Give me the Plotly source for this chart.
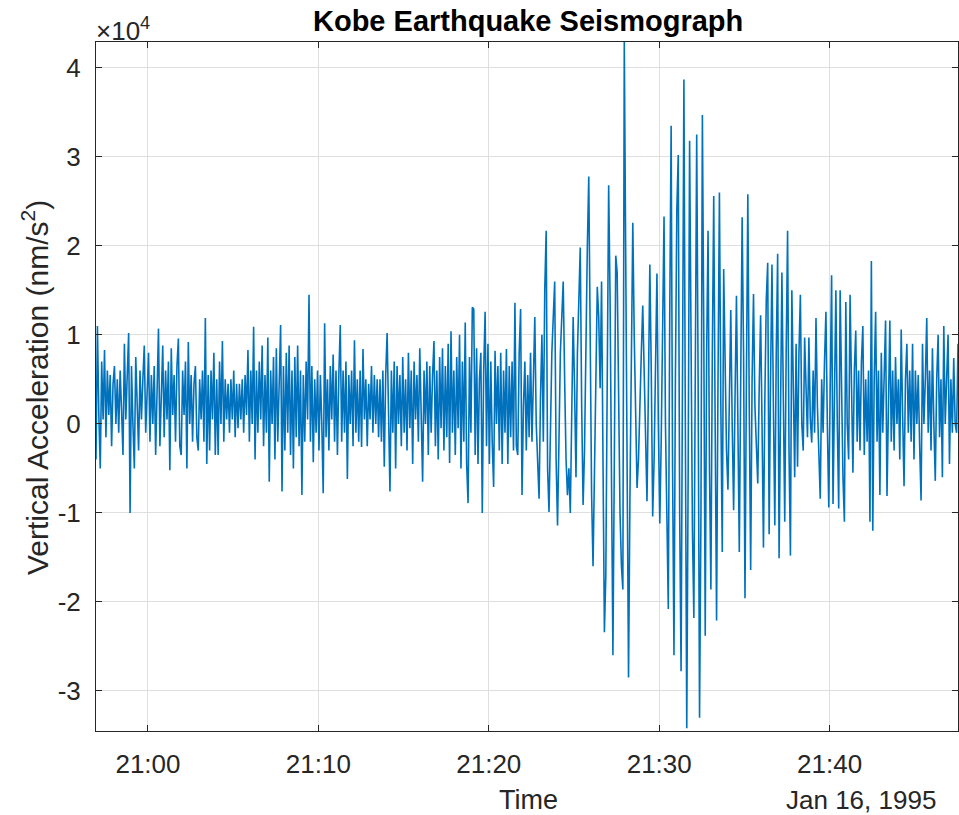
import pandas as pd
import plotly.graph_objects as go

# Vertical acceleration in units of 1e3 nm/s^2, one value every 5 s from 20:56:57
seg_a = [-4.0, 11.0, 1.0, -5.0, 7.0, 0.5, 8.3, -1.5, 6.0, 1.0, 5.5, -2.5, 4.5, 6.5, 0.0, 5.0, -1.0, 6.0, 1.5, -3.5,
         9.0, 0.5, 5.5, 10.2, -10.0, 6.5, 0.0, -5.0, 7.5, 1.0, -3.0, 6.0, 0.5, 5.0, 8.8, -1.0, 4.5, 8.0, -2.0, 5.5,
         0.0, 6.5, -3.5, 4.0, 10.7, -2.5, 5.0, 8.8, -1.5, 6.0, 0.5, 7.0, -5.2, 8.5, 1.0, 5.5, -2.0, 6.5, 9.6, -2.5,
         -3.5, 6.0, 1.0, 7.0, -5.0, 9.2, 0.0, 5.5, -2.0, 4.5, 6.5, -1.5, -3.0, 5.0, 0.5, 6.0, -2.0, 11.9, -4.5, 5.5,
         -3.0, 6.0, 0.5, 8.0, -3.5, 5.0, -3.5, 7.0, 0.0, 9.3, -2.0, 5.0, 0.5, 4.5, -1.0, 5.0, 0.5, 6.0, -1.5, 4.5]
seg_b = [-0.5, 4.5, 0.5, 5.0, -1.0, 5.5, 1.0, 8.3, -2.0, 6.0, 0.0, 10.9, -4.0, 6.0, -1.0, 7.0, 0.5, 8.8, -2.5, 5.5,
         -1.0, 9.7, -6.5, 6.0, 0.0, 7.5, -4.0, 8.5, -2.0, 5.5, 11.1, -7.6, 6.5, -3.0, 8.0, -1.0, 8.8, -3.5, 6.0, -5.0,
         7.5, -1.5, 8.8, -2.5, 6.0, -8.0, 5.5, -2.0, 7.0, 0.5, 14.5, -2.0, 6.5, -4.3, 5.0, -1.0, 6.0, -3.0, 5.5, 0.0,
         -7.8, 11.3, -1.5, 5.0, -3.0, 6.5, 0.5, 7.8, -2.0, 6.0, -3.5, 5.5, 11.1, -2.0, 6.0, -1.0, 7.0, -6.2, 5.5, 0.0,
         6.0, -2.5, 9.4, -1.0, 5.0, -2.0, 6.0, -2.6, 8.4, 0.5, 5.0, -2.5, 4.5, 0.5, 6.5, -1.0, 5.5, 0.0, 5.0, -1.5]
seg_c = [5.0, -2.0, 6.0, -4.8, 5.5, 10.2, 0.5, -7.6, 6.0, -1.0, 7.0, -5.0, 6.5, 0.0, 5.5, -2.5, 7.5, -1.0, 5.0, -3.0,
         8.0, -0.5, 6.0, -4.5, 7.0, 0.5, 5.5, -2.0, 8.5, -1.0, -6.5, 6.0, 0.0, 7.0, -3.5, 6.5, -1.0, 5.5, 9.3, -2.5,
         6.0, -4.0, 7.5, -0.5, 8.5, -3.0, 6.5, -1.5, 9.0, -4.4, 10.4, -1.0, 6.0, -3.5, 7.5, -0.5, 10.0, -5.0, 7.0, -2.0,
         11.4, -4.5, -8.9, 7.5, -1.0, 13.1, 12.9, -3.5, 8.5, -4.5, 5.0, 8.0, -10.0, 6.0, 12.6, -2.5, 9.0, -4.5, 7.0, -2.0,
         -7.1, 8.2, 0.0, 6.5, -3.0, 8.0, -4.5, 6.0, -1.0, 8.4, -4.5, 6.5, -1.5, 7.0, -3.0, 13.6, -2.5, -3.5, 8.0, 12.9]
seg_d = [-8.0, 2.0, 7.0, -3.0, 5.5, -1.5, 8.0, -2.0, 4.0, 12.0, 0.0, -4.0, -8.4, 3.0, 10.0, -2.0, 15.0, 21.7, -5.0, -9.9,
         0.0, 8.0, 12.0, 16.0, -4.0, -11.4, -2.0, 8.0, 12.0, 16.0, 5.0, -4.0, -8.0, -5.0, -10.0, 2.0, 12.0, 4.0, -6.0, 8.0,
         15.0, 19.8, 2.0, -9.1, -3.0, 10.0, 20.0, 27.8, 6.0, -8.0, -16.0, -6.0, 8.0, 15.4, 12.0, 4.0, 16.0, -4.0, -23.4, -17.0,
         5.0, 26.8, 14.0, -12.0, -26.0, -4.0, 18.9, 17.0, 4.0, -10.0, -16.0, -18.6, 42.9, 20.0, -10.0, -28.5, -8.0, 12.0, 22.6, 10.0,
         2.0, -7.2, -4.0, 3.0, 8.0, 13.3, 6.0, -2.0, -8.7, 4.0, 17.9, 6.0, -10.4, -4.0, 8.0, 16.9, 0.0, -11.2, -2.0, 10.0]
seg_e = [23.3, 0.0, -13.0, -20.8, 12.0, 33.5, -5.0, -26.0, 5.0, 24.0, 30.2, -10.0, -27.8, 10.0, 38.7, 0.0, -34.2, -5.0, 31.8, 10.0,
         -12.0, -21.8, 8.0, 32.5, 5.0, -33.0, -10.0, 34.7, 10.0, -23.8, 8.0, 21.7, -5.0, -18.6, 8.0, 25.6, 0.0, -22.1, 5.0, 26.0,
         2.0, -14.4, 17.4, 4.0, -3.0, -7.4, 5.0, 12.8, 0.0, -9.7, 3.0, 14.4, 0.0, -14.4, 5.0, 23.2, 8.0, -19.6, 5.0, 25.8,
         2.0, -16.4, 5.0, 14.6, 2.0, -3.0, -6.7, 4.0, 12.2, 0.0, -13.9, 3.0, 14.0, 18.1, -12.4, 5.0, 17.9, 2.0, -11.4, 8.0,
         19.1, -15.1, 4.0, 17.0, 3.0, -11.0, 8.0, 21.7, -3.0, -14.8, 15.0, 2.0, -6.0, 9.0, -4.8, 8.0, 14.5, 0.0, -3.0, 9.7]
seg_f = [3.0, -1.5, 9.7, 0.5, -2.1, 6.0, -1.0, 11.9, 2.0, -3.0, -8.4, 5.0, -1.0, 7.0, 12.6, 0.0, -9.4, 4.0, 16.7, -9.0,
         5.0, 15.0, 0.0, -9.5, 15.0, 2.0, -6.0, -11.0, 13.7, 0.0, -4.0, 14.5, 3.0, -5.5, 6.0, 10.5, -2.0, 6.0, -3.0, 7.0,
         11.0, -3.5, 5.0, -2.0, 6.0, -11.0, 18.3, -12.0, 5.0, 12.6, -2.0, 6.0, -8.0, 8.0, -1.0, 4.0, 11.6, -8.1, 4.0, 11.6,
         -2.0, 6.0, -3.0, 7.5, 0.0, 5.0, -4.0, 10.6, 1.0, -7.0, 5.0, 9.0, -1.0, 6.0, -2.0, 9.0, -4.0, 6.0, 0.0, 5.5,
         -2.5, -8.6, 9.0, 0.0, 5.0, 11.9, -1.0, 6.0, -3.0, 8.5, 0.0, -6.4, 5.0, 10.0, -1.5, 5.0, -6.0, 11.0, 0.0, 6.0,
         10.0, -4.5, 5.0, -1.0, 7.4, 0.0, -1.0, 9.0]

start_time = "1995-01-16 20:56:57"
sample_period = "5s"
tick_times = ["1995-01-16 21:00", "1995-01-16 21:10", "1995-01-16 21:20", "1995-01-16 21:30", "1995-01-16 21:40"]
tick_labels = ["21:00", "21:10", "21:20", "21:30", "21:40"]
y_ticks = [-3, -2, -1, 0, 1, 2, 3, 4]

values_k = seg_a + seg_b + seg_c + seg_d + seg_e + seg_f
accel = [v * 1000 for v in values_k]
times = pd.date_range(start_time, periods=len(accel), freq=sample_period)

FONT = "Liberation Sans, Arial, Helvetica, sans-serif"
INK = "#262626"

fig = go.Figure()
fig.add_trace(go.Scatter(x=times, y=accel, mode="lines",
                         line=dict(color="#0072BD", width=1.6), hoverinfo="skip"))

fig.update_layout(
    width=959, height=815,
    margin=dict(l=96, r=1, t=42, b=84),
    paper_bgcolor="white", plot_bgcolor="white",
    showlegend=False,
    font=dict(family=FONT, size=26, color=INK),
)
fig.update_xaxes(
    range=[times[0], times[-1]],
    tickmode="array", tickvals=tick_times, ticktext=tick_labels,
    ticks="inside", ticklen=6, tickcolor=INK, tickwidth=1,
    showline=True, linecolor=INK, linewidth=1, mirror="ticks",
    showgrid=True, gridcolor="#dfdfdf", gridwidth=1, zeroline=False,
    tickfont=dict(size=26, color=INK), ticklabelstandoff=10,
)
fig.update_yaxes(
    range=[-34.5e3, 42.9e3],
    tickmode="array", tickvals=[t * 1e4 for t in y_ticks], ticktext=[str(t) for t in y_ticks],
    ticks="inside", ticklen=6, tickcolor=INK, tickwidth=1,
    showline=True, linecolor=INK, linewidth=1, mirror="ticks",
    showgrid=True, gridcolor="#dfdfdf", gridwidth=1, zeroline=False,
    tickfont=dict(size=26, color=INK), ticklabelstandoff=9,
)

def px_x(x):
    return (x - 96) / 862.0

def px_y(y):
    return (731 - y) / 689.0

annos = [
    dict(text="<b>Kobe Earthquake Seismograph</b>", x=px_x(528), y=px_y(21), font=dict(size=29, color="black")),
    dict(text="Time", x=px_x(528), y=px_y(800), font=dict(size=27, color=INK)),
    dict(text="Jan 16, 1995", x=px_x(938), y=px_y(800), xanchor="right", font=dict(size=26, color=INK)),
    dict(text="Vertical Acceleration (nm/s<sup>2</sup>)", x=px_x(35), y=px_y(388), textangle=-90,
         font=dict(size=30, color=INK)),
    dict(text="×10<sup>4</sup>", x=px_x(94), y=px_y(30), xanchor="left", font=dict(size=26, color=INK)),
]
for a in annos:
    a.setdefault("xanchor", "center")
    fig.add_annotation(xref="paper", yref="paper", showarrow=False, yanchor="middle", **a)

# remove the default page margin so the 959x815 figure fills the window exactly
fig.write_html("out.html", config={"displayModeBar": False, "staticPlot": True},
               post_script="document.body.style.margin='0';document.body.style.overflow='hidden';")
